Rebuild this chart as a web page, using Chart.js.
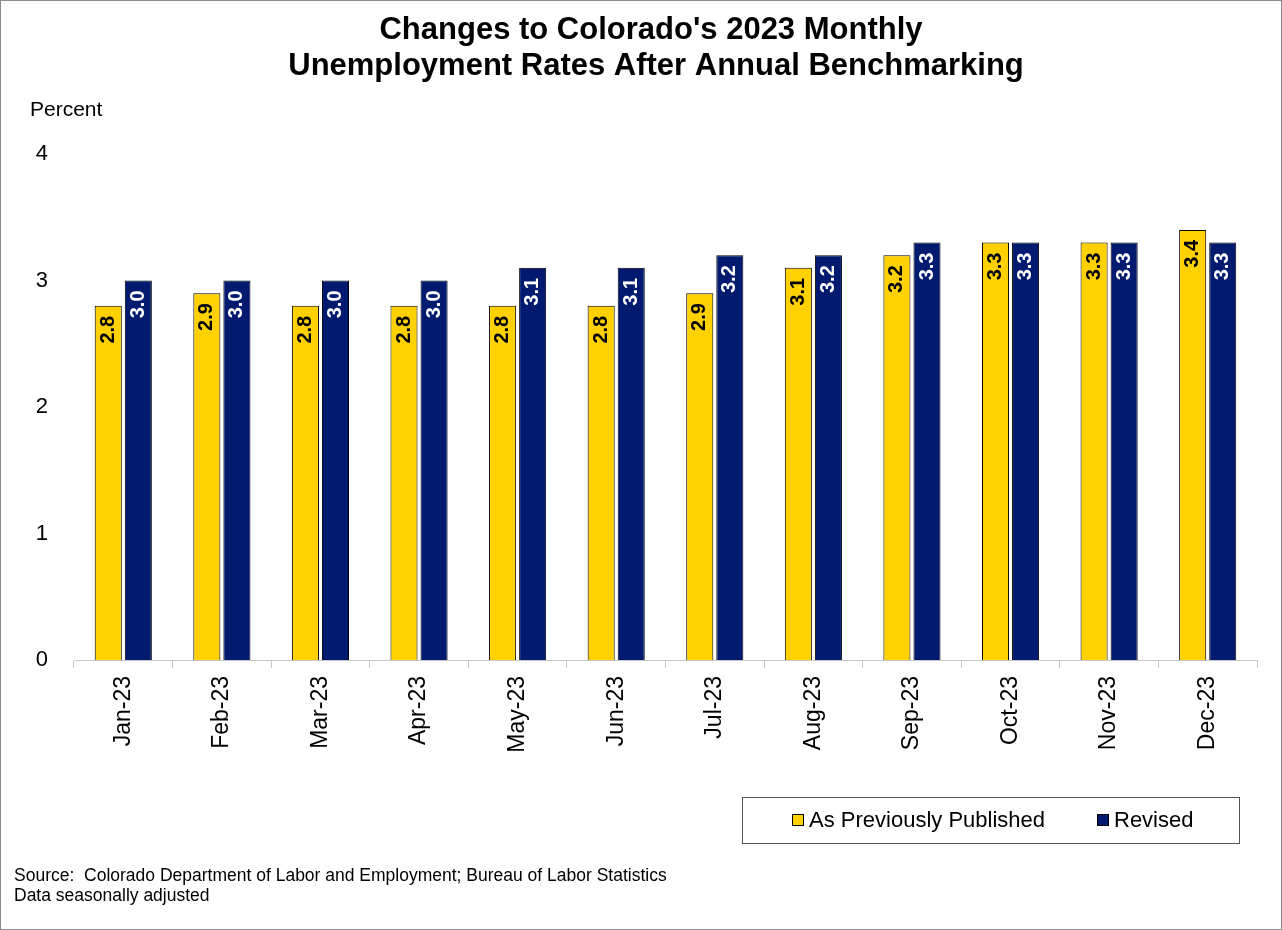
<!DOCTYPE html>
<html>
<head>
<meta charset="utf-8">
<script src="https://cdn.jsdelivr.net/npm/chart.js@4.4.0/dist/chart.umd.min.js"></script>
<style>
  html, body { margin: 0; padding: 0; background: #fff; }
  #wrap { width: 1282px; height: 930px; position: relative; }
</style>
</head>
<body>
<div id="wrap"><canvas id="chart" width="1282" height="930"></canvas></div>
<script>
// Chart data
const months = ['Jan-23', 'Feb-23', 'Mar-23', 'Apr-23', 'May-23', 'Jun-23',
                'Jul-23', 'Aug-23', 'Sep-23', 'Oct-23', 'Nov-23', 'Dec-23'];
const previouslyPublished = [2.8, 2.9, 2.8, 2.8, 2.8, 2.8, 2.9, 3.1, 3.2, 3.3, 3.3, 3.4];
const revised = [3.0, 3.0, 3.0, 3.0, 3.1, 3.1, 3.2, 3.2, 3.3, 3.3, 3.3, 3.3];
const yTicks = [0, 1, 2, 3, 4];

const titleLines = ["Changes to Colorado's 2023 Monthly", 'Unemployment Rates After Annual Benchmarking'];
const sourceLines = ['Source:  Colorado Department of Labor and Employment; Bureau of Labor Statistics',
                     'Data seasonally adjusted'];

const YELLOW = '#FFD100';
const NAVY = '#001A70';
const FONT = "'Liberation Sans', Arial, sans-serif";

// Draws labels inside the bars, titles, legend box and source notes
const decorPlugin = {
    id: 'decor',
    afterDatasetsDraw(chart) {
        const ctx = chart.ctx;
        ctx.save();
        ctx.font = 'bold 20px ' + FONT;
        ctx.textAlign = 'right';
        ctx.textBaseline = 'middle';
        chart.data.datasets.forEach((ds, i) => {
            const meta = chart.getDatasetMeta(i);
            meta.data.forEach((bar, j) => {
                ctx.save();
                ctx.translate(bar.x, bar.y + 10);
                ctx.rotate(-Math.PI / 2);
                ctx.fillStyle = i === 0 ? '#000' : '#fff';
                ctx.fillText(ds.data[j].toFixed(1), 0, 0);
                ctx.restore();
            });
        });
        ctx.restore();
    },
    afterDraw(chart) {
        const ctx = chart.ctx;
        ctx.save();
        // outer frame
        ctx.strokeStyle = '#8c8c8c';
        ctx.lineWidth = 1;
        ctx.strokeRect(0.5, 0.5, chart.width - 1, chart.height - 1);

        // title
        ctx.fillStyle = '#000';
        ctx.textAlign = 'center';
        ctx.textBaseline = 'middle';
        ctx.font = 'bold 31px ' + FONT;
        ctx.fillText(titleLines[0], 651, 30);
        ctx.fillText(titleLines[1], 656, 66);

        // axis title
        ctx.textAlign = 'left';
        ctx.font = '21px ' + FONT;
        ctx.fillText('Percent', 30, 110);

        // legend box
        ctx.strokeStyle = '#555';
        ctx.strokeRect(742.5, 797.5, 497, 46);
        ctx.font = '22px ' + FONT;
        const items = [
            { label: 'As Previously Published', color: YELLOW, x: 792 },
            { label: 'Revised', color: NAVY, x: 1097 }
        ];
        items.forEach(it => {
            ctx.fillStyle = it.color;
            ctx.fillRect(it.x, 814, 11, 11);
            ctx.strokeStyle = '#000';
            ctx.strokeRect(it.x + 0.5, 814.5, 11, 11);
            ctx.fillStyle = '#000';
            ctx.fillText(it.label, it.x + 17, 821);
        });

        // source notes
        ctx.font = "17.5px 'Liberation Sans Narrow', 'Liberation Sans', Arial, sans-serif";
        ctx.fillText(sourceLines[0], 14, 876);
        ctx.fillText(sourceLines[1], 14, 896);
        ctx.restore();
    }
};

const ctx = document.getElementById('chart').getContext('2d');
new Chart(ctx, {
    type: 'bar',
    data: {
        labels: months,
        datasets: [
            {
                label: 'As Previously Published',
                data: previouslyPublished,
                backgroundColor: YELLOW,
                borderColor: '#000',
                borderWidth: 1,
                borderSkipped: 'bottom'
            },
            {
                label: 'Revised',
                data: revised,
                backgroundColor: NAVY,
                borderColor: '#000',
                borderWidth: 1,
                borderSkipped: 'bottom'
            }
        ]
    },
    options: {
        responsive: false,
        animation: false,
        datasets: {
            bar: { barPercentage: 0.9, categoryPercentage: 0.61 }
        },
        layout: {
            padding: { top: 154, right: 25, bottom: 160, left: 0 }
        },
        plugins: {
            legend: { display: false },
            tooltip: { enabled: false }
        },
        scales: {
            x: {
                grid: {
                    drawOnChartArea: false,
                    drawTicks: true,
                    tickLength: 8,
                    offset: true,
                    color: '#c8c8c8'
                },
                border: { display: true, color: '#c8c8c8' },
                ticks: {
                    color: '#000',
                    font: { family: FONT, size: 23 },
                    minRotation: 90,
                    maxRotation: 90,
                    padding: 8
                },
                afterFit: (scale) => { scale.height = 110; }
            },
            y: {
                min: 0,
                max: 4,
                afterBuildTicks: (scale) => { scale.ticks = yTicks.map(v => ({ value: v })); },
                grid: { display: false },
                border: { display: false },
                ticks: {
                    color: '#000',
                    font: { family: FONT, size: 22 },
                    padding: 18
                },
                afterFit: (scale) => { scale.width = 74; }
            }
        }
    },
    plugins: [decorPlugin]
});
</script>
</body>
</html>
